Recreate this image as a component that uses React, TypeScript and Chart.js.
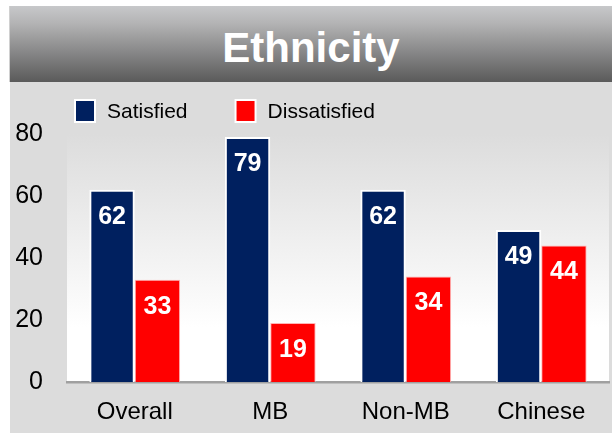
import React, { useEffect, useRef } from "react";
import { Chart, registerables } from "chart.js";

Chart.register(...registerables);

const titleText = "Ethnicity";
const categories = ["Overall", "MB", "Non-MB", "Chinese"];
const seriesNames = ["Satisfied", "Dissatisfied"];
const satisfied = [62, 79, 62, 49];
const dissatisfied = [33, 19, 34, 44];
const yTicks = [0, 20, 40, 60, 80];
const seriesColors = ["#00205f", "#ff0000"];

const FONT = '"Liberation Sans", Arial, Helvetica, sans-serif';

const plotBgPlugin = {
  id: "plotBg",
  beforeDraw(chart: any) {
    const { ctx, chartArea: a } = chart;
    const g = ctx.createLinearGradient(0, a.top, 0, a.bottom);
    g.addColorStop(0, "#dcdcdc");
    g.addColorStop(0.78, "#ffffff");
    g.addColorStop(1, "#ffffff");
    ctx.save();
    ctx.fillStyle = g;
    ctx.fillRect(a.left, a.top, a.right - a.left, a.bottom - a.top);
    ctx.restore();
  },
};

const legendPlugin = {
  id: "customLegend",
  afterDraw(chart: any) {
    const ctx = chart.ctx;
    ctx.save();
    ctx.font = `21px ${FONT}`;
    ctx.textBaseline = "middle";
    ctx.textAlign = "left";
    let x = 64;
    const y = 17;
    chart.data.datasets.forEach((ds: any) => {
      ctx.fillStyle = "#ffffff";
      ctx.fillRect(x, y, 22, 24);
      ctx.fillStyle = ds.backgroundColor;
      ctx.fillRect(x + 2, y + 2, 18, 20);
      ctx.fillStyle = "#000000";
      const tx = x + 33;
      ctx.fillText(ds.label, tx, y + 13);
      x = tx + ctx.measureText(ds.label).width + 47;
    });
    ctx.restore();
  },
};

const valueLabelPlugin = {
  id: "valueLabels",
  afterDatasetsDraw(chart: any) {
    const ctx = chart.ctx;
    ctx.save();
    ctx.font = `bold 25px ${FONT}`;
    ctx.fillStyle = "#ffffff";
    ctx.textAlign = "center";
    ctx.textBaseline = "middle";
    chart.data.datasets.forEach((ds: any, i: number) => {
      const meta = chart.getDatasetMeta(i);
      meta.data.forEach((bar: any, j: number) => {
        ctx.fillText(String(ds.data[j]), bar.x, bar.y + 27);
      });
    });
    ctx.restore();
  },
};

export default function App() {
  const ref = useRef<HTMLCanvasElement>(null);

  useEffect(() => {
    document.body.style.margin = "0";
    if (!ref.current) return;
    const chart = new Chart(ref.current, {
      type: "bar",
      data: {
        labels: categories,
        datasets: [
          {
            label: seriesNames[0],
            data: satisfied,
            backgroundColor: seriesColors[0],
            borderColor: "#ffffff",
            borderWidth: 2,
            categoryPercentage: 0.67,
            barPercentage: 1,
          },
          {
            label: seriesNames[1],
            data: dissatisfied,
            backgroundColor: seriesColors[1],
            borderColor: "#ffb4b4",
            borderWidth: 1,
            categoryPercentage: 0.67,
            barPercentage: 1,
          },
        ],
      },
      options: {
        animation: false,
        responsive: false,
        maintainAspectRatio: false,
        layout: { padding: { top: 52, left: 6, right: 3, bottom: 0 } },
        plugins: {
          legend: { display: false },
          tooltip: { enabled: false },
          title: { display: false },
        },
        scales: {
          x: {
            grid: { display: false, drawTicks: false },
            border: { display: true, color: "#a0a0a0", width: 2.5 },
            ticks: {
              color: "#000000",
              font: { family: FONT, size: 24 },
              padding: 16,
            },
            afterFit: (s: any) => {
              s.height = 51;
            },
          },
          y: {
            min: 0,
            max: 80,
            grid: { display: false, drawTicks: false },
            border: { display: false },
            ticks: {
              color: "#000000",
              font: { family: FONT, size: 25 },
              padding: 24,
            },
            afterBuildTicks: (s: any) => {
              s.ticks = yTicks.map((v) => ({ value: v }));
            },
            afterFit: (s: any) => {
              s.width = 51;
            },
          },
        },
      },
      plugins: [plotBgPlugin, legendPlugin, valueLabelPlugin],
    });
    return () => chart.destroy();
  }, []);

  return (
    <div style={{ position: "relative", width: 612, height: 433, background: "#ffffff", overflow: "hidden" }}>
      <div
        style={{
          position: "absolute",
          left: 9,
          top: 6,
          width: 603,
          height: 76,
          background: "linear-gradient(#c7c8ca 0%, #b4b4b5 22%, #5a5a5a 100%)",
          borderLeft: "1px solid #d0d0d0",
          boxSizing: "border-box",
        }}
      >
        <div
          style={{
            position: "absolute",
            left: 0,
            right: 0,
            top: 4,
            height: 76,
            lineHeight: "76px",
            textAlign: "center",
            color: "#ffffff",
            fontFamily: FONT,
            fontWeight: "bold",
            fontSize: 42,
          }}
        >
          {titleText}
        </div>
      </div>
      <div
        style={{
          position: "absolute",
          left: 10,
          top: 82,
          width: 602,
          height: 351,
          background: "#dcdcdc",
        }}
      >
        <canvas ref={ref} width={602} height={351} style={{ width: 602, height: 351, display: "block" }} />
      </div>
    </div>
  );
}
